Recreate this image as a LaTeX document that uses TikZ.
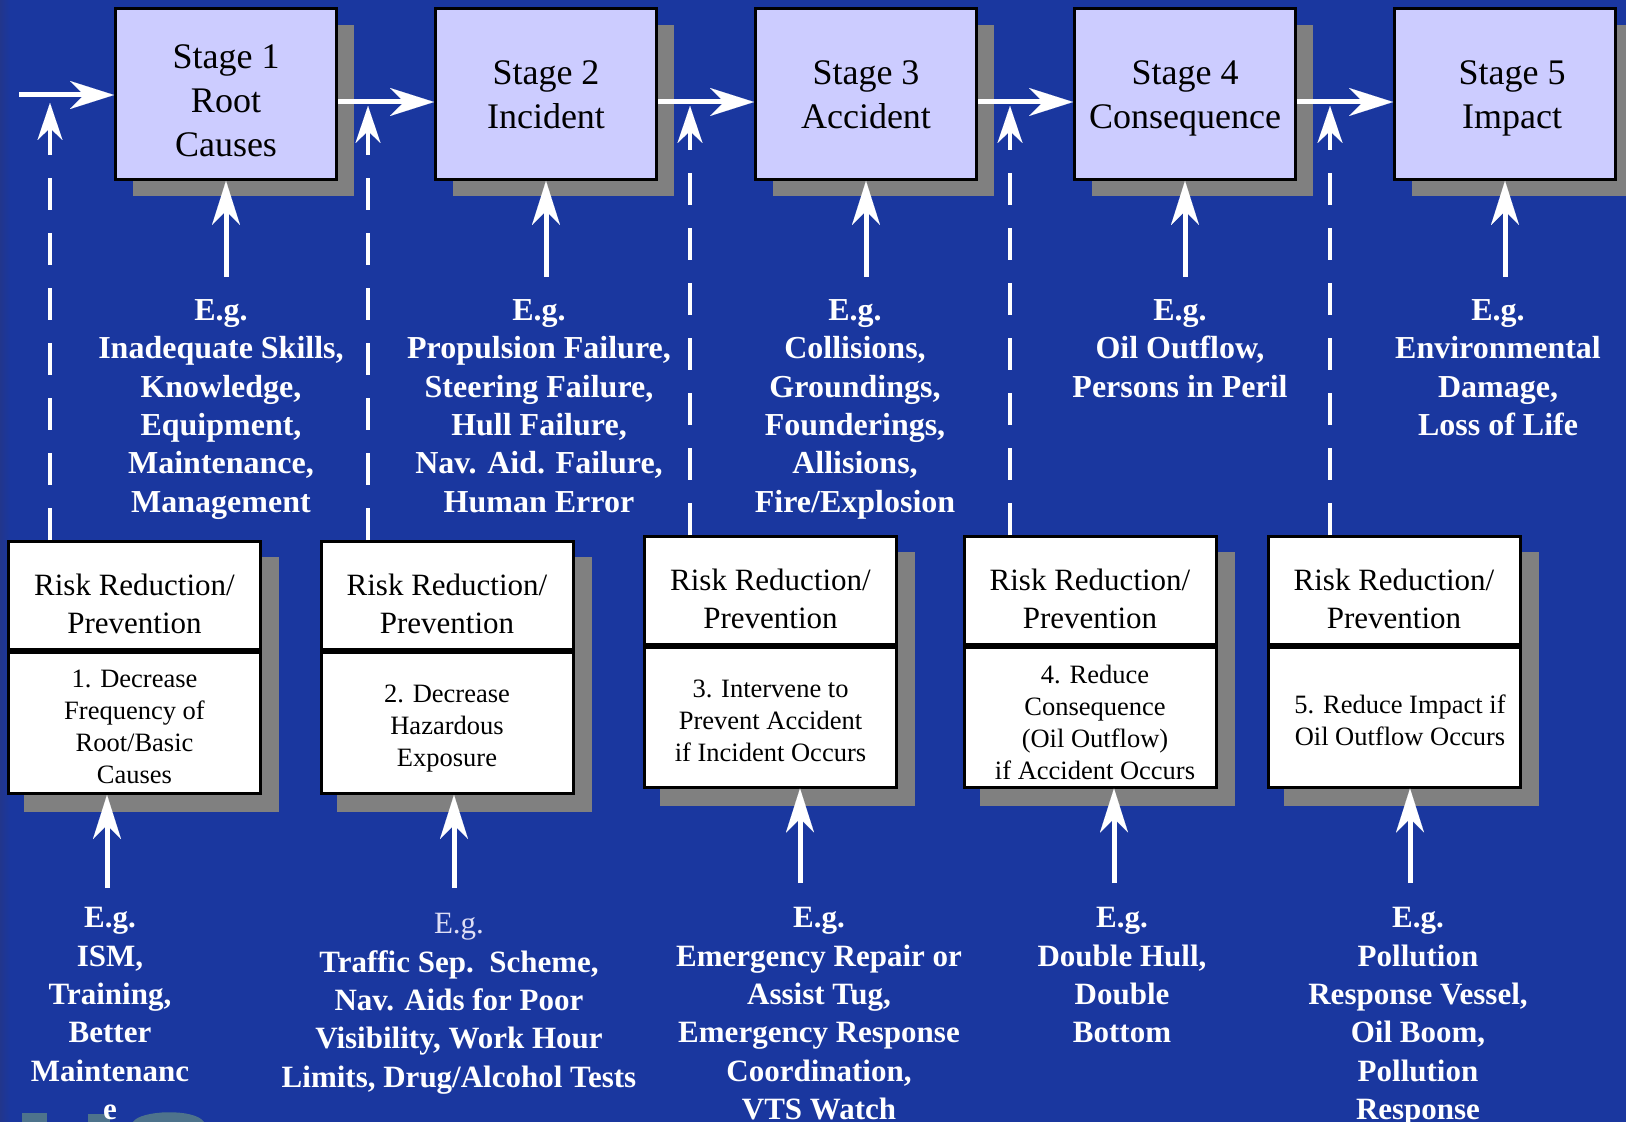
\documentclass[tikz,border=0pt]{standalone}
\usepackage{fontspec}
\setmainfont{Liberation Serif}
\usetikzlibrary{arrows.meta,shadows}
\pgfdeclarelayer{shadowlayer}
\pgfsetlayers{shadowlayer,main}
\definecolor{bgblue}{RGB}{26,55,159}
\definecolor{lav}{RGB}{204,204,255}
\definecolor{shgray}{RGB}{128,128,128}
\definecolor{egcol}{RGB}{222,222,245}
\definecolor{logocol}{RGB}{78,115,140}
\definecolor{edgecol}{RGB}{34,54,140}
\tikzset{
  myshadow/.style={drop shadow={shadow xshift=8.5pt, shadow yshift=-8.5pt, fill=shgray, opacity=1}},
  stagebox/.style={draw=black, line width=1.5pt, fill=lav, minimum width=110.5pt, minimum height=85.5pt,
    inner sep=0pt, myshadow},
  stagetext/.style={align=center, inner sep=0pt, font=\fontsize{18}{22}\selectfont},
  riskhead/.style={draw=black, line width=1.5pt, fill=white, minimum width=126pt, minimum height=54pt, inner sep=0pt},
  riskbody/.style={draw=black, line width=1.5pt, fill=white, minimum width=126pt, inner sep=0pt},
  headtext/.style={align=center, inner sep=0pt, font=\fontsize{15.5}{18.8}\selectfont},
  bodytext/.style={align=center, inner sep=0pt, font=\fontsize{13.25}{16}\selectfont},
  egtext/.style={align=center, inner sep=0pt, anchor=north, text=white, font=\bfseries\fontsize{16}{19.2}\selectfont},
  egbottom/.style={egtext, font=\bfseries\fontsize{15.5}{19.2}\selectfont},
  arr/.style={draw=white, line width=2.5pt, -{Stealth[length=22pt,width=14pt,inset=7pt,line width=0.01pt]}},
  dasharr/.style={draw=white, line width=2.3pt, dash pattern=on 16pt off 11.5pt,
    -{Stealth[length=18.5pt,width=12.5pt,inset=6pt,line width=0.01pt]}}
}
\begin{document}
\begin{tikzpicture}[x=0.5pt,y=-0.5pt]
\useasboundingbox (0,0) rectangle (1626,1122);
\clip (0,0) rectangle (1626,1122);
\begin{pgfonlayer}{shadowlayer}
\fill[bgblue] (0,0) rectangle (1626,1122);
\shade[left color=edgecol, right color=bgblue] (0,0) rectangle (10,1122);
% logo fragment at bottom left
\fill[logocol] (22,1113) rectangle (47,1122);
\fill[logocol] (88,1114) rectangle (110,1122);
\fill[logocol] (133,1122) .. controls (140,1110) and (195,1108) .. (204,1122) -- cycle;
\end{pgfonlayer}

% stage boxes
\node[stagebox] (s1) at (226,94) {};
\node[stagebox] (s2) at (546,94) {};
\node[stagebox] (s3) at (866,94) {};
\node[stagebox] (s4) at (1185,94) {};
\node[stagebox] (s5) at (1505,94) {};
\node[stagetext] (st1) at (226,101) {Stage 1\\Root\\Causes};
\node[stagetext] (st2) at (546,95) {Stage 2\\Incident};
\node[stagetext] (st3) at (866,95) {Stage 3\\Accident};
\node[stagetext] (st4) at (1185,98) {Stage 4\\Consequence};
\node[stagetext] (st5) at (1512,98) {Stage 5\\Impact};

% risk boxes
\node[riskhead] (h1) at (134.5,595.5) {};
\node[riskhead] (h2) at (447,595.5) {};
\node[riskhead] (h3) at (770.5,590.5) {};
\node[riskhead] (h4) at (1090,590.5) {};
\node[riskhead] (h5) at (1394,590.5) {};
\node[riskbody, minimum height=70.5pt] (b1) at (134.5,723) {};
\node[riskbody, minimum height=70.5pt] (b2) at (447,723) {};
\node[riskbody, minimum height=70pt] (b3) at (770.5,717) {};
\node[riskbody, minimum height=70pt] (b4) at (1090,717) {};
\node[riskbody, minimum height=70pt] (b5) at (1394,717) {};
\begin{pgfonlayer}{shadowlayer}
\foreach \i in {1,...,5}{
  \fill[shgray] ([shift={(17,17)}]h\i.north west) rectangle ([shift={(17,17)}]b\i.south east);
}
\end{pgfonlayer}

\node[headtext] (ht1) at (134.5,604) {Risk Reduction/\\Prevention};
\node[headtext] (ht2) at (447,604) {Risk Reduction/\\Prevention};
\node[headtext] (ht3) at (770.5,599) {Risk Reduction/\\Prevention};
\node[headtext] (ht4) at (1090,599) {Risk Reduction/\\Prevention};
\node[headtext] (ht5) at (1394,599) {Risk Reduction/\\Prevention};

\node[bodytext] (bt1) at (134.5,727) {1. Decrease\\Frequency of\\Root/Basic\\Causes};
\node[bodytext] (bt2) at (447,729) {2. Decrease\\Hazardous\\Exposure};
\node[bodytext] (bt3) at (770.5,721) {3. Intervene to\\Prevent Accident\\if Incident Occurs};
\node[bodytext] (bt4) at (1095,722.5) {4. Reduce\\Consequence\\(Oil Outflow)\\if Accident Occurs};
\node[bodytext] (bt5) at (1400,720) {5. Reduce Impact if\\Oil Outflow Occurs};

% middle example texts
\node[egtext] (m1) at (221,299) {E.g.\\Inadequate Skills,\\Knowledge,\\Equipment,\\Maintenance,\\Management};
\node[egtext] (m2) at (539,299) {E.g.\\Propulsion Failure,\\Steering Failure,\\Hull Failure,\\Nav. Aid. Failure,\\Human Error};
\node[egtext] (m3) at (855,299) {E.g.\\Collisions,\\Groundings,\\Founderings,\\Allisions,\\Fire/Explosion};
\node[egtext] (m4) at (1180,299) {E.g.\\Oil Outflow,\\Persons in Peril};
\node[egtext] (m5) at (1498,299) {E.g.\\Environmental\\Damage,\\Loss of Life};

% bottom example texts
\node[egbottom] (t1) at (110,907) {E.g.\\ISM,\\Training,\\Better\\Maintenanc\\e};
\node[egbottom] (t2) at (459,913) {{\mdseries\color{egcol}E.g.}\\Traffic Sep.\ \ Scheme,\\Nav. Aids for Poor\\Visibility, Work Hour\\Limits, Drug/Alcohol Tests};
\node[egbottom] (t3) at (819,907) {E.g.\\Emergency Repair or\\Assist Tug,\\Emergency Response\\Coordination,\\VTS Watch};
\node[egbottom] (t4) at (1122,907) {E.g.\\Double Hull,\\Double\\Bottom};
\node[egbottom] (t5) at (1418,907) {E.g.\\Pollution\\Response Vessel,\\Oil Boom,\\Pollution\\Response};

% horizontal flow arrows
\coordinate (start) at (19,95);
\draw[arr] (start) -- (start -| s1.west);
\draw[arr] ([yshift=-4pt]s1.east) -- ([yshift=-4pt]s2.west);
\draw[arr] ([yshift=-4pt]s2.east) -- ([yshift=-4pt]s3.west);
\draw[arr] ([yshift=-4pt]s3.east) -- ([yshift=-4pt]s4.west);
\draw[arr] ([yshift=-4pt]s4.east) -- ([yshift=-4pt]s5.west);

% arrows from examples up to stages
\foreach \i/\x in {1/226,2/546,3/866,4/1185,5/1505}{
  \coordinate (u\i) at (\x,277);
  \draw[arr] (u\i) -- (u\i |- s\i.south);
}

% dashed arrows from risk boxes up to flow
\coordinate (d1) at (50,103);
\coordinate (d2) at (368,106);
\coordinate (d3) at (690,106);
\coordinate (d4) at (1010,106);
\coordinate (d5) at (1330,106);
\foreach \i in {1,...,5}{
  \draw[dasharr] (h\i.north -| d\i) -- (d\i);
}

% arrows from bottom examples up to risk boxes
\coordinate (v1) at (107,888);
\coordinate (v2) at (454,888);
\coordinate (v3) at (800,883);
\coordinate (v4) at (1114,883);
\coordinate (v5) at (1410,883);
\foreach \i in {1,...,5}{
  \draw[arr] (v\i) -- (v\i |- b\i.south);
}
\end{tikzpicture}
\end{document}
